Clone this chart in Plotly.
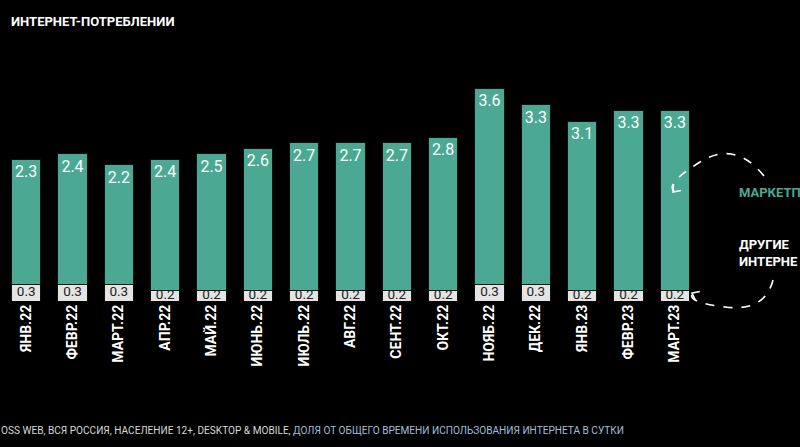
import math
import plotly.graph_objects as go

months = ["ЯНВ.22", "ФЕВР.22", "МАРТ.22", "АПР.22", "МАЙ.22", "ИЮНЬ.22", "ИЮЛЬ.22",
          "АВГ.22", "СЕНТ.22", "ОКТ.22", "НОЯБ.22", "ДЕК.22", "ЯНВ.23", "ФЕВР.23", "МАРТ.23"]
marketplaces = [2.3, 2.4, 2.2, 2.4, 2.5, 2.6, 2.7, 2.7, 2.7, 2.8, 3.6, 3.3, 3.1, 3.3, 3.3]
other_internet = [0.3, 0.3, 0.3, 0.2, 0.2, 0.2, 0.2, 0.2, 0.2, 0.2, 0.3, 0.3, 0.2, 0.2, 0.2]

TEAL = "#4aa893"
GRAY = "#e4e4e4"
FONT = "Roboto"

W, H = 800, 447
L, R, T, B = 3, 102, 61, 146  # plot area x 3..698, y 61..301
PW, PH = W - L - R, H - T - B


def px(x):
    return (x - L) / PW


def py(y):
    return (H - B - y) / PH


def vhead(tip, toward, length=8, spread=38):
    # open V arrow head drawn as a path (pixel coords -> paper coords)
    dx, dy = toward[0] - tip[0], toward[1] - tip[1]
    ang = math.atan2(dy, dx)
    pts = []
    for s in (-1, 1):
        a = ang + s * math.radians(spread)
        pts.append((tip[0] + length * math.cos(a), tip[1] + length * math.sin(a)))
    return (f"M {px(pts[0][0])},{py(pts[0][1])} L {px(tip[0])},{py(tip[1])} "
            f"L {px(pts[1][0])},{py(pts[1][1])}")


fig = go.Figure()
fig.add_bar(x=months, y=other_internet, marker=dict(color=GRAY, line=dict(color="#111", width=1)),
            name="other", hoverinfo="skip")
fig.add_bar(x=months, y=marketplaces, marker=dict(color=TEAL, line=dict(color="#111", width=1)),
            text=[f"{v:.1f}" for v in marketplaces], textposition="inside",
            insidetextanchor="end", textangle=0,
            textfont=dict(color="white", size=16, family=FONT), name="mp")
fig.add_scatter(x=months, y=[v / 2 for v in other_internet], mode="text",
                text=[f"{v:.1f}" for v in other_internet],
                textfont=dict(color="#222", size=13.5, family=FONT), hoverinfo="skip")

fig.update_layout(
    width=W, height=H, barmode="stack", bargap=0.37, showlegend=False,
    paper_bgcolor="black", plot_bgcolor="black",
    margin=dict(l=L, r=R, t=T, b=B, autoexpand=False),
    font=dict(family=FONT, color="white"),
    xaxis=dict(tickangle=-90, showgrid=False, zeroline=False, showline=False, ticks="",
               automargin=False,
               tickfont=dict(family=FONT, size=14, color="white", weight="bold"),
               range=[-0.5, 14.5]),
    yaxis=dict(visible=False, range=[0, 4.4], automargin=False),
)

# title (cropped in the reference)
fig.add_annotation(xref="paper", yref="paper", x=px(176), y=py(22), xanchor="right", yanchor="middle",
                   text="<b>ИНТЕРНЕТ-ПОТРЕБЛЕНИИ</b>", showarrow=False,
                   font=dict(size=13, color="white", family=FONT))

# footnote
fig.add_annotation(xref="paper", yref="paper", x=px(-1), y=py(430), xanchor="left", yanchor="middle",
                   text="OSS WEB, ВСЯ РОССИЯ, НАСЕЛЕНИЕ 12+, DESKTOP &amp; MOBILE, "
                        "<span style='color:#a3bedb'>ДОЛЯ ОТ ОБЩЕГО ВРЕМЕНИ ИСПОЛЬЗОВАНИЯ ИНТЕРНЕТА В СУТКИ</span>",
                   showarrow=False, font=dict(size=10.1, color="#d8d8d8", family=FONT))

# legend labels on the right (cropped in the reference)
fig.add_annotation(xref="paper", yref="paper", x=px(737), y=py(192), xanchor="left", yanchor="middle",
                   text="<b>МАРКЕТП</b>", showarrow=False,
                   font=dict(size=13, color=TEAL, family=FONT))
fig.add_annotation(xref="paper", yref="paper", x=px(737), y=py(253), xanchor="left", yanchor="middle",
                   text="<b>ДРУГИЕ<br>ИНТЕРНЕ</b>", showarrow=False, align="left",
                   font=dict(size=13, color="white", family=FONT))

# curved dashed arrows
fig.add_shape(type="path", xref="paper", yref="paper",
              path=f"M {px(764)},{py(176)} Q {px(735)},{py(140)} {px(700)},{py(162)} T {px(674)},{py(191)}",
              line=dict(color="white", width=1.6, dash="dash"))
fig.add_shape(type="path", xref="paper", yref="paper", path=vhead((673, 192), (681, 183)),
              line=dict(color="white", width=1.6))
fig.add_shape(type="path", xref="paper", yref="paper",
              path=f"M {px(773)},{py(280)} Q {px(765)},{py(312)} {px(725)},{py(307)} T {px(693)},{py(293)}",
              line=dict(color="white", width=1.6, dash="dash"))
fig.add_shape(type="path", xref="paper", yref="paper", path=vhead((692, 293), (704, 299)),
              line=dict(color="white", width=1.6))

fig.write_html("out.html", config={"displayModeBar": False},
               post_script="document.body.style.margin='0';document.body.style.padding='0';document.body.style.overflow='hidden';")
